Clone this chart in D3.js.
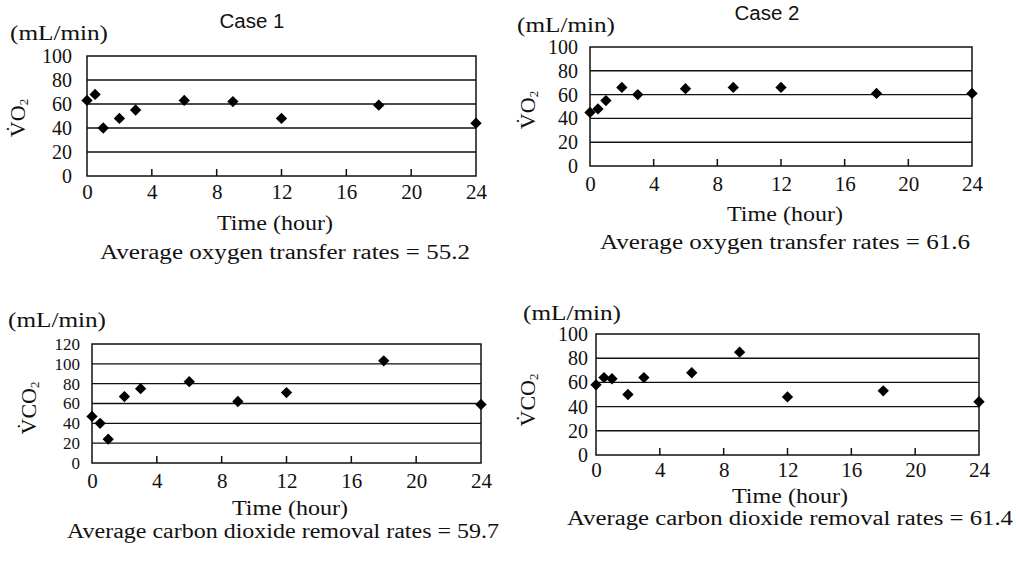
<!DOCTYPE html>
<html>
<head>
<meta charset="utf-8">
<script src="https://cdn.jsdelivr.net/npm/d3@7"></script>
<style>
  html, body { margin: 0; padding: 0; background: #fff; }
  svg { display: block; }
</style>
</head>
<body>
<svg id="chart" width="1016" height="561"></svg>
<script>
// ---- data ----
const hours = [0, 0.5, 1, 2, 3, 6, 9, 12, 18, 24];
const vo2Case1 = [63, 68, 40, 48, 55, 63, 62, 48, 59, 44];
const vo2Case2 = [45, 48, 55, 66, 60, 65, 66, 66, 61, 61];
const vco2Case1 = [47, 40, 24, 67, 75, 82, 62, 71, 103, 59];
const vco2Case2 = [58, 64, 63, 50, 64, 68, 85, 48, 53, 44];
const xTicks = [0, 4, 8, 12, 16, 20, 24];
const yTicksO2 = [0, 20, 40, 60, 80, 100];
const yTicksCO2Case1 = [0, 20, 40, 60, 80, 100, 120];
const yTicksCO2Case2 = [0, 20, 40, 60, 80, 100];
const caseTitles = ["Case 1", "Case 2"];
const unitLabel = "(mL/min)";
const xAxisTitle = "Time (hour)";
const averageLabels = [
  "Average oxygen transfer rates = 55.2",
  "Average oxygen transfer rates = 61.6",
  "Average carbon dioxide removal rates = 59.7",
  "Average carbon dioxide removal rates = 61.4"
];
const yLabelMain = ["V\u0307O", "V\u0307CO"];

const svg = d3.select("#chart");
const serif = "'Liberation Serif', 'Times New Roman', serif";

const panels = [
  { values: vo2Case1, yTicks: yTicksO2, ymax: 100, l: 87, r: 476, t: 56, b: 176, ypad: 15, xpad: 8, yfs: 20,
    title: caseTitles[0], titleX: 252, titleY: 28, unitX: 10, unitY: 40, yl: yLabelMain[0], ylX: 25, ylY: 118,
    xtY: 230, xtX: 275, avg: averageLabels[0], avgX: 285, avgY: 259, avgW: 370 },
  { values: vo2Case2, yTicks: yTicksO2, ymax: 100, l: 590, r: 972, t: 47, b: 166, ypad: 12, xpad: 10, yfs: 20,
    title: caseTitles[1], titleX: 767, titleY: 20, unitX: 517, unitY: 32, yl: yLabelMain[0], ylX: 535, ylY: 110,
    xtY: 221, xtX: 785, avg: averageLabels[1], avgX: 785, avgY: 249, avgW: 370 },
  { values: vco2Case1, yTicks: yTicksCO2Case1, ymax: 120, l: 92, r: 481, t: 344, b: 463, ypad: 12, xpad: 10, yfs: 17,
    title: null, unitX: 8, unitY: 327, yl: yLabelMain[1], ylX: 36, ylY: 408,
    xtY: 515, xtX: 290, avg: averageLabels[2], avgX: 283, avgY: 538, avgW: 432 },
  { values: vco2Case2, yTicks: yTicksCO2Case2, ymax: 100, l: 596, r: 979, t: 334, b: 455, ypad: 8, xpad: 7, yfs: 20,
    title: null, unitX: 523, unitY: 320, yl: yLabelMain[1], ylX: 535, ylY: 400,
    xtY: 503, xtX: 790, avg: averageLabels[3], avgX: 790, avgY: 525, avgW: 446 }
];

panels.forEach(p => {
  const x = d3.scaleLinear().domain([0, 24]).range([p.l, p.r]);
  const y = d3.scaleLinear().domain([0, p.ymax]).range([p.b, p.t]);
  const g = svg.append("g");

  // horizontal gridlines
  g.selectAll("line.grid")
    .data(p.yTicks.filter(v => v > 0 && v < p.ymax))
    .join("line")
    .attr("x1", p.l).attr("x2", p.r)
    .attr("y1", d => y(d)).attr("y2", d => y(d))
    .attr("stroke", "#111").attr("stroke-width", 1.4);

  // frame
  g.append("rect")
    .attr("x", x(0)).attr("y", y(p.ymax))
    .attr("width", x(24) - x(0)).attr("height", y(0) - y(p.ymax))
    .attr("fill", "none").attr("stroke", "#111").attr("stroke-width", 1.5);

  // inner x ticks
  g.selectAll("line.xt")
    .data(xTicks.slice(1, -1))
    .join("line")
    .attr("x1", d => x(d)).attr("x2", d => x(d))
    .attr("y1", y(0)).attr("y2", y(0) - 7)
    .attr("stroke", "#111").attr("stroke-width", 1.5);

  // x tick labels
  const xa = g.append("g").attr("transform", `translate(0,${p.b})`)
    .call(d3.axisBottom(x).tickValues(xTicks).tickSize(0).tickPadding(p.xpad).tickFormat(d3.format("d")));
  xa.select(".domain").remove();
  xa.selectAll("text").attr("font-family", serif).attr("font-size", 21).attr("fill", "#111");

  // y tick labels
  const ya = g.append("g").attr("transform", `translate(${p.l},0)`)
    .call(d3.axisLeft(y).tickValues(p.yTicks).tickSize(0).tickPadding(p.ypad).tickFormat(d3.format("d")));
  ya.select(".domain").remove();
  ya.selectAll("text").attr("font-family", serif).attr("font-size", p.yfs).attr("fill", "#111");

  // points
  g.selectAll("path.pt")
    .data(hours.map((h, i) => [h, p.values[i]]))
    .join("path")
    .attr("d", d3.symbol(d3.symbolSquare, 64))
    .attr("transform", d => `translate(${x(d[0])},${y(d[1])}) rotate(45)`)
    .attr("fill", "#000");

  // title
  if (p.title) {
    g.append("text").attr("x", p.titleX).attr("y", p.titleY)
      .attr("text-anchor", "middle")
      .attr("font-family", "'Liberation Sans', Arial, sans-serif")
      .attr("font-size", 20).attr("fill", "#111")
      .attr("textLength", 65).attr("lengthAdjust", "spacingAndGlyphs")
      .text(p.title);
  }

  // unit label
  g.append("text").attr("x", p.unitX).attr("y", p.unitY)
    .attr("font-family", serif).attr("font-size", 21).attr("fill", "#111")
    .attr("textLength", 98).attr("lengthAdjust", "spacingAndGlyphs")
    .text(unitLabel);

  // rotated y label
  const yt = g.append("text")
    .attr("transform", `translate(${p.ylX},${p.ylY}) rotate(-90)`)
    .attr("text-anchor", "middle")
    .attr("font-family", serif).attr("font-size", 22).attr("fill", "#111");
  yt.append("tspan").text(p.yl);
  yt.append("tspan").attr("font-size", 13).attr("dy", 3).text("2");

  // x axis title
  g.append("text").attr("x", p.xtX).attr("y", p.xtY)
    .attr("text-anchor", "middle")
    .attr("font-family", serif).attr("font-size", 21).attr("fill", "#111")
    .attr("textLength", 116).attr("lengthAdjust", "spacingAndGlyphs")
    .text(xAxisTitle);

  // average caption
  g.append("text").attr("x", p.avgX).attr("y", p.avgY)
    .attr("text-anchor", "middle")
    .attr("font-family", serif).attr("font-size", 20).attr("fill", "#111")
    .attr("textLength", p.avgW).attr("lengthAdjust", "spacingAndGlyphs")
    .text(p.avg);
});
</script>
</body>
</html>
